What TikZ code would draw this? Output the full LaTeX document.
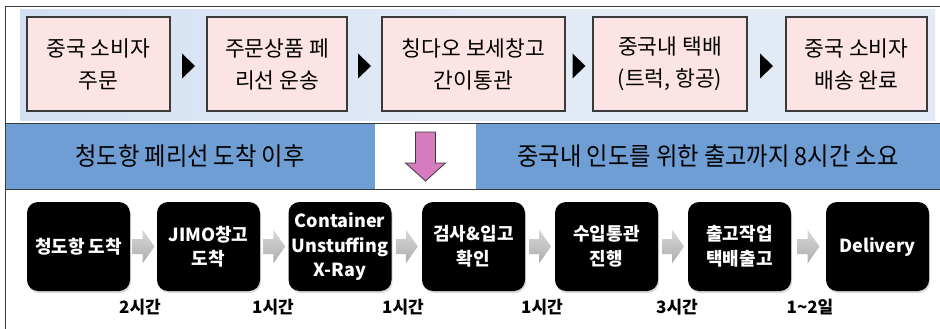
\documentclass[tikz,border=0pt]{standalone}
\usepackage{fontspec}
\newfontfamily\kr{Noto Sans CJK KR}
\newfontfamily\krn[FakeStretch=0.93]{Noto Sans CJK KR}
\usetikzlibrary{calc,shadows}
\definecolor{pinkfill}{HTML}{FDE4E4}
\definecolor{boxedge}{HTML}{3A3A3A}
\definecolor{bandblue}{HTML}{6E9ED3}
\definecolor{bgblue}{HTML}{E2EAF6}
\definecolor{bgblue2}{HTML}{D3E0F2}
\definecolor{arrowpink}{HTML}{D67BBE}
\tikzset{
  topbox/.style={draw=boxedge, line width=1.1pt, fill=pinkfill, minimum height=94pt, inner sep=0pt, align=center, font=\kr\fontsize{21.5}{32}\selectfont},
  blackbox/.style={fill=black, rounded corners=11pt, minimum width=103pt, minimum height=89pt, inner sep=0pt, align=center, text=white, font=\kr\bfseries\fontsize{18}{24.5}\selectfont, drop shadow={shadow xshift=1pt, shadow yshift=-2pt, opacity=0.3}},
  timelbl/.style={font=\kr\bfseries\fontsize{17}{18}\selectfont, inner sep=0pt},
  bandcell/.style={font=\krn\fontsize{25}{28}\selectfont, inner sep=0pt, minimum height=65pt, fill=bandblue},
  graybar/.style={top color=gray!30, bottom color=gray!65},
}
\begin{document}
\begin{tikzpicture}[x=1pt,y=-1pt]
\useasboundingbox (0,0) rectangle (940,329);
% top background
\shade[left color=bgblue2, right color=bgblue, middle color=bgblue] (20,10) rectangle (935,120);
% top boxes
\node[topbox, minimum width=143pt] (a1) at (98.5,64) {중국 소비자\\주문};
\node[topbox, minimum width=140pt] (a2) at (277,64) {주문상품 페\\리선 운송};
\node[topbox, minimum width=183pt] (a3) at (473.5,64) {칭다오 보세창고\\간이통관};
\node[topbox, minimum width=154pt] (a4) at (670,64) {중국내 택배\\(트럭, 항공)};
\node[topbox, minimum width=141pt] (a5) at (856.5,64) {중국 소비자\\배송 완료};
\foreach \p/\q in {a1/a2,a2/a3,a3/a4,a4/a5}{
  \coordinate (m) at ($(\p.east)!0.5!(\q.west)+(0,2)$);
  \fill[black] ($(m)+(-6.5,-12.5)$) -- ($(m)+(6.5,0)$) -- ($(m)+(-6.5,12.5)$) -- cycle;
}
% middle band
\node[bandcell, minimum width=370pt] (bl) at (190,156.5) {청도항 페리선 도착 이후};
\node[bandcell, minimum width=101pt, fill=white] (gap) at (425.5,156.5) {};
\node[bandcell, minimum width=464pt] (br) at (708,156.5) {중국내 인도를 위한 출고까지 8시간 소요};
\draw[boxedge, line width=1pt] (bl.north west) -- (br.north east);
\draw[boxedge, line width=1pt] (bl.south west) -- (br.south east);
\draw[boxedge, fill=arrowpink, line width=0.8pt, line join=miter]
  ($(gap.center)+(-10,-24.5)$) -- ++(20,0) -- ++(0,31) -- ++(10,0)
  -- ($(gap.center)+(0,24.5)$) -- ($(gap.center)+(-20,6.5)$) -- ++(10,0) -- cycle;
% bottom process
\node[blackbox] (k1) at (78.5,246.5) {청도항 도착};
\node[blackbox] (k2) at (208.5,246.5) {JIMO창고\\도착};
\node[blackbox] (k3) at (340,246.5) {Container\\Unstuffing\\X-Ray};
\node[blackbox] (k4) at (473.5,246.5) {검사\&입고\\확인};
\node[blackbox] (k5) at (606.5,246.5) {수입통관\\진행};
\node[blackbox] (k6) at (739.5,246.5) {출고작업\\택배출고};
\node[blackbox] (k7) at (877.5,246.5) {Delivery};
\foreach \p/\q in {k1/k2,k2/k3,k3/k4,k4/k5,k5/k6,k6/k7}{
  \coordinate (g) at ($(\p.east)!0.5!(\q.west)$);
  \shade[graybar] ($(g)+(-11,-7.5)$) -- ($(g)+(-1,-7.5)$) -- ($(g)+(-1,-17)$) -- ($(g)+(11,0)$)
    -- ($(g)+(-1,17)$) -- ($(g)+(-1,7.5)$) -- ($(g)+(-11,7.5)$) -- cycle;
}
\node[timelbl] (t1) at (140,307) {2시간};
\node[timelbl] (t2) at (273,307) {1시간};
\node[timelbl] (t3) at (403,307) {1시간};
\node[timelbl] (t4) at (542,307) {1시간};
\node[timelbl] (t5) at (677,307) {3시간};
\node[timelbl] (t6) at (810,307) {1\textasciitilde2일};
% frame
\draw[boxedge, line width=1pt] (5,329) -- (5,7) -- (940,7);
\end{tikzpicture}
\end{document}
